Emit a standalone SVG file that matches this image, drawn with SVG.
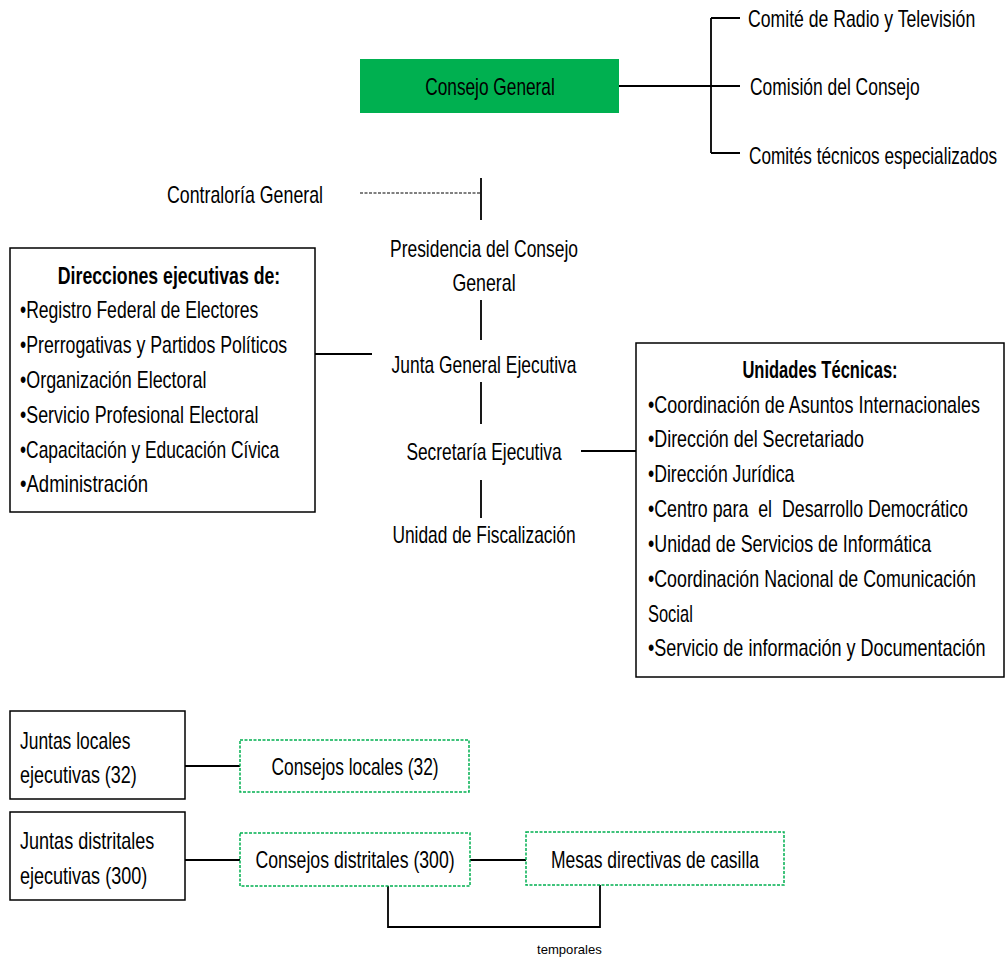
<svg xmlns="http://www.w3.org/2000/svg" width="1006" height="958" viewBox="0 0 1006 958">
<style>
text{font-family:"Liberation Sans",Arial,sans-serif;font-size:23px;fill:#000;}
.b{font-weight:bold;}
.m{text-anchor:middle;}
.ln{stroke:#000;stroke-width:1.8;fill:none;}
.box{fill:#fff;stroke:#000;stroke-width:1.5;}
.gbox{fill:#fff;stroke:#00B050;stroke-width:1.5;stroke-dasharray:3 1.5;}
</style>
<rect width="1006" height="958" fill="#fff"/>
<g id="connectors">
<path class="ln" d="M619 86H740M711 18V153M711 18H740M711 153H740"/>
<path d="M360 193H481" stroke="#000" stroke-width="1" stroke-dasharray="3 1.5" fill="none"/>
<path class="ln" d="M481 178V220" stroke-width="1.2"/>
<path class="ln" d="M481 300V340M481 382V424M481 480V518" stroke-width="1.2"/>
<path class="ln" d="M315 354H372M581 451H636"/>
<path class="ln" d="M185 766H240M185 860H240M470 860H526M388 886V927H600V885"/>
</g>
<g id="consejo-general">
<rect x="360" y="59" width="259" height="54" fill="#00B050"/>
<text transform="translate(490 95) scale(.8 1)" class="m" textLength="162" lengthAdjust="spacingAndGlyphs">Consejo General</text>
</g>
<g id="comite-radio"><text transform="translate(748 27) scale(.8 1)" textLength="284" lengthAdjust="spacingAndGlyphs">Comité de Radio y Televisión</text></g>
<g id="comision"><text transform="translate(750 95) scale(.8 1)" textLength="212" lengthAdjust="spacingAndGlyphs">Comisión del Consejo</text></g>
<g id="comites-tecnicos"><text transform="translate(749 164) scale(.745 1)" textLength="333" lengthAdjust="spacingAndGlyphs">Comités técnicos especializados</text></g>
<g id="contraloria"><text transform="translate(167 203) scale(.8 1)" textLength="195" lengthAdjust="spacingAndGlyphs">Contraloría General</text></g>
<g id="presidencia">
<text transform="translate(484 257) scale(.8 1)" class="m" textLength="235" lengthAdjust="spacingAndGlyphs">Presidencia del Consejo</text>
<text transform="translate(484 291) scale(.8 1)" class="m" textLength="79" lengthAdjust="spacingAndGlyphs">General</text>
</g>
<g id="junta-general"><text transform="translate(484 373) scale(.8 1)" class="m" textLength="231" lengthAdjust="spacingAndGlyphs">Junta General Ejecutiva</text></g>
<g id="secretaria"><text transform="translate(484 460) scale(.8 1)" class="m" textLength="194" lengthAdjust="spacingAndGlyphs">Secretaría Ejecutiva</text></g>
<g id="fiscalizacion"><text transform="translate(484 543) scale(.8 1)" class="m" textLength="229" lengthAdjust="spacingAndGlyphs">Unidad de Fiscalización</text></g>
<g id="direcciones">
<rect class="box" x="10" y="248" width="305" height="264"/>
<text transform="translate(169 284) scale(.8 1)" class="m b" textLength="278" lengthAdjust="spacingAndGlyphs">Direcciones ejecutivas de:</text>
<text transform="translate(20 318) scale(.8 1)" textLength="298" lengthAdjust="spacingAndGlyphs">•Registro Federal de Electores</text>
<text transform="translate(20 353) scale(.8 1)" textLength="334" lengthAdjust="spacingAndGlyphs">•Prerrogativas y Partidos Políticos</text>
<text transform="translate(20 388) scale(.8 1)" textLength="233" lengthAdjust="spacingAndGlyphs">•Organización Electoral</text>
<text transform="translate(20 423) scale(.8 1)" textLength="298" lengthAdjust="spacingAndGlyphs">•Servicio Profesional Electoral</text>
<text transform="translate(20 458) scale(.8 1)" textLength="324" lengthAdjust="spacingAndGlyphs">•Capacitación y Educación Cívica</text>
<text transform="translate(20 492) scale(.8 1)" textLength="160" lengthAdjust="spacingAndGlyphs">•Administración</text>
</g>
<g id="unidades">
<rect class="box" x="636" y="343" width="368" height="334"/>
<text transform="translate(820 378) scale(.8 1)" class="m b" textLength="194" lengthAdjust="spacingAndGlyphs">Unidades Técnicas:</text>
<text transform="translate(648 413) scale(.8 1)" textLength="415" lengthAdjust="spacingAndGlyphs">•Coordinación de Asuntos Internacionales</text>
<text transform="translate(648 447) scale(.8 1)" textLength="270" lengthAdjust="spacingAndGlyphs">•Dirección del Secretariado</text>
<text transform="translate(648 482) scale(.8 1)" textLength="183" lengthAdjust="spacingAndGlyphs">•Dirección Jurídica</text>
<text transform="translate(648 517) scale(.8 1)" textLength="400" lengthAdjust="spacingAndGlyphs" xml:space="preserve">•Centro para  el  Desarrollo Democrático</text>
<text transform="translate(648 552) scale(.8 1)" textLength="354" lengthAdjust="spacingAndGlyphs">•Unidad de Servicios de Informática</text>
<text transform="translate(648 587) scale(.8 1)" textLength="410" lengthAdjust="spacingAndGlyphs">•Coordinación Nacional de Comunicación</text>
<text transform="translate(648 622) scale(.8 1)" textLength="56" lengthAdjust="spacingAndGlyphs">Social</text>
<text transform="translate(648 656) scale(.8 1)" textLength="422" lengthAdjust="spacingAndGlyphs">•Servicio de información y Documentación</text>
</g>
<g id="juntas-locales">
<rect class="box" x="10" y="711" width="175" height="88"/>
<text transform="translate(20 749) scale(.8 1)" textLength="138" lengthAdjust="spacingAndGlyphs">Juntas locales</text>
<text transform="translate(20 783) scale(.8 1)" textLength="146" lengthAdjust="spacingAndGlyphs">ejecutivas (32)</text>
</g>
<g id="consejos-locales">
<rect class="gbox" x="240" y="740" width="229" height="52"/>
<text transform="translate(355 775) scale(.8 1)" class="m" textLength="209" lengthAdjust="spacingAndGlyphs">Consejos locales (32)</text>
</g>
<g id="juntas-distritales">
<rect class="box" x="10" y="812" width="175" height="88"/>
<text transform="translate(20 849) scale(.8 1)" textLength="168" lengthAdjust="spacingAndGlyphs">Juntas distritales</text>
<text transform="translate(20 884) scale(.8 1)" textLength="159" lengthAdjust="spacingAndGlyphs">ejecutivas (300)</text>
</g>
<g id="consejos-distritales">
<rect class="gbox" x="240" y="833" width="230" height="53"/>
<text transform="translate(355 868) scale(.8 1)" class="m" textLength="249" lengthAdjust="spacingAndGlyphs">Consejos distritales (300)</text>
</g>
<g id="mesas">
<rect class="gbox" x="526" y="832" width="258" height="53"/>
<text transform="translate(655 868) scale(.8 1)" class="m" textLength="260" lengthAdjust="spacingAndGlyphs">Mesas directivas de casilla</text>
</g>
<g id="temporales"><text transform="translate(537 954) scale(.8 1)" style="font-size:12px" textLength="81" lengthAdjust="spacingAndGlyphs">temporales</text></g>
</svg>
